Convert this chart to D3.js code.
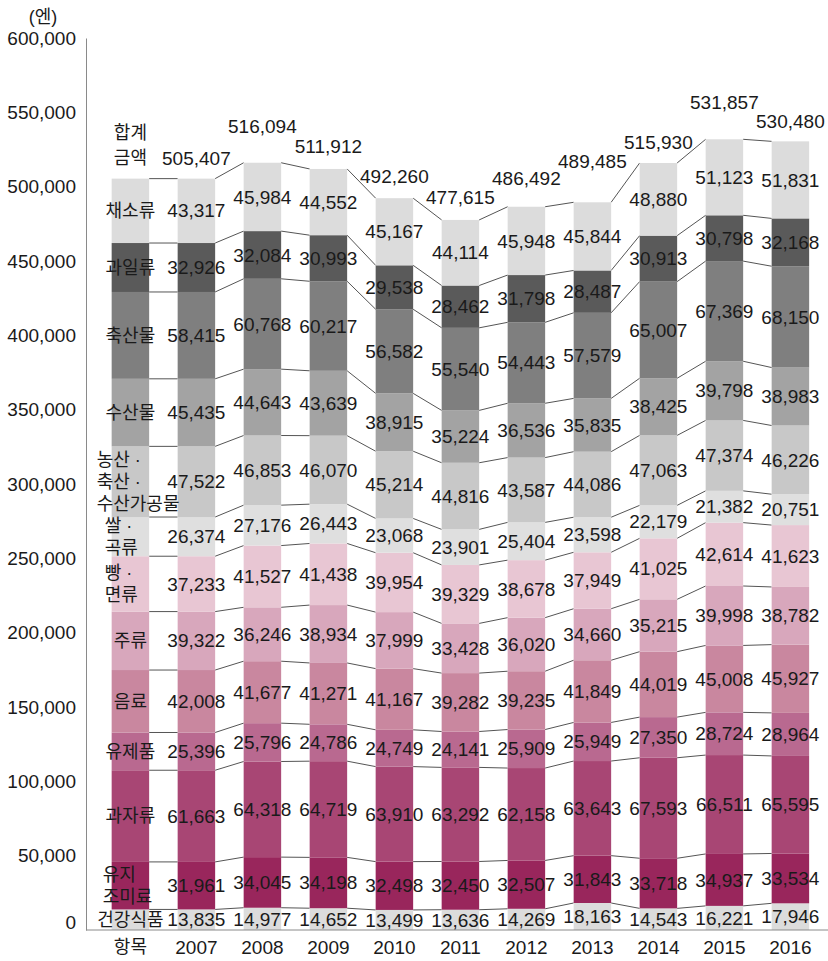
<!DOCTYPE html>
<html>
<head>
<meta charset="utf-8">
<script src="https://cdn.jsdelivr.net/npm/d3@7"></script>
<style>
  body { margin: 0; background: #fff; }
  text { font-family: "Liberation Sans", "Noto Sans CJK KR", sans-serif; fill: #1a1a1a; }
</style>
</head>
<body>
<svg id="chart" width="828" height="961"></svg>
<script>
// data (categories listed bottom -> top of the stack)
const years = ["2007", "2008", "2009", "2010", "2011", "2012", "2013", "2014", "2015", "2016"];
const categories = ["건강식품", "유지 조미료", "과자류", "유제품", "음료", "주류", "빵 · 면류", "쌀 · 곡류", "농산 · 축산 · 수산가공물", "수산물", "축산물", "과일류", "채소류"];

const healthFood = [13835, 14977, 14652, 13499, 13636, 14269, 18163, 14543, 16221, 17946];
const oilSeasoning = [31961, 34045, 34198, 32498, 32450, 32507, 31843, 33718, 34937, 33534];
const confectionery = [61663, 64318, 64719, 63910, 63292, 62158, 63643, 67593, 66511, 65595];
const dairy = [25396, 25796, 24786, 24749, 24141, 25909, 25949, 27350, 28724, 28964];
const beverages = [42008, 41677, 41271, 41167, 39282, 39235, 41849, 44019, 45008, 45927];
const liquor = [39322, 36246, 38934, 37999, 33428, 36020, 34660, 35215, 39998, 38782];
const breadNoodles = [37233, 41527, 41438, 39954, 39329, 38678, 37949, 41025, 42614, 41623];
const riceGrain = [26374, 27176, 26443, 23068, 23901, 25404, 23598, 22179, 21382, 20751];
const processed = [47522, 46853, 46070, 45214, 44816, 43587, 44086, 47063, 47374, 46226];
const seafood = [45435, 44643, 43639, 38915, 35224, 36536, 35835, 38425, 39798, 38983];
const livestock = [58415, 60768, 60217, 56582, 55540, 54443, 57579, 65007, 67369, 68150];
const fruit = [32926, 32084, 30993, 29538, 28462, 31798, 28487, 30913, 30798, 32168];
const vegetables = [43317, 45984, 44552, 45167, 44114, 45948, 45844, 48880, 51123, 51831];
const totals = [505407, 516094, 511912, 492260, 477615, 486492, 489485, 515930, 531857, 530480];
const yTicks = [0, 50000, 100000, 150000, 200000, 250000, 300000, 350000, 400000, 450000, 500000, 550000, 600000];

const series = [healthFood, oilSeasoning, confectionery, dairy, beverages, liquor, breadNoodles,
  riceGrain, processed, seafood, livestock, fruit, vegetables];

// styling
const colors = ["#dcdcdc", "#99265c", "#a84674", "#b96990", "#c9879f", "#d8a7bc", "#e8c6d3",
  "#dfdfdf", "#c8c8c8", "#a3a3a3", "#7f7f7f", "#5a5a5a", "#dcdcdc"];
// multi-line names in the first column: lines, anchor, x offset from bar start
const nameLayout = {
  "유지 조미료": { lines: ["유지", "조미료"], dx: -9 },
  "빵 · 면류": { lines: ["빵 ·", "면류"], dx: -7 },
  "쌀 · 곡류": { lines: ["쌀 ·", "곡류"], dx: -7 },
  "농산 · 축산 · 수산가공물": { lines: ["농산 ·", "축산 ·", "수산가공물"], dx: -15 }
};
const totalLift = [20, 36, 23, 22, 23, 28, 41, 21, 37, 20];

const svg = d3.select("#chart");
const columns = ["항목", ...years];

// first column repeats the 2007 stack, labelled with item names
const rows = columns.map((c, i) => {
  const j = i === 0 ? 0 : i - 1;
  const r = { col: c };
  categories.forEach((k, ci) => r[k] = series[ci][j]);
  return r;
});
const stacked = d3.stack().keys(categories)(rows);

const x = d3.scaleBand().domain(columns).range([97.4, 823.4]).paddingInner(0.432).paddingOuter(0.216);
const y = d3.scaleLinear().domain([0, 600000]).range([930, 38]);
const bw = x.bandwidth();
const fmt = d3.format(",");

// connector lines between adjacent bars
const linkGroup = svg.append("g");
stacked.forEach(layer => {
  for (let i = 0; i < columns.length - 1; i++) {
    linkGroup.append("line")
      .attr("x1", x(columns[i]) + bw).attr("y1", y(layer[i][1]))
      .attr("x2", x(columns[i + 1])).attr("y2", y(layer[i + 1][1]))
      .attr("stroke", "#555").attr("stroke-width", 1);
  }
});

// bars
svg.append("g").selectAll("g")
  .data(stacked)
  .join("g")
  .attr("fill", (d, i) => colors[i])
  .selectAll("rect")
  .data(d => d)
  .join("rect")
  .attr("x", d => x(d.data.col))
  .attr("y", d => y(d[1]))
  .attr("width", bw)
  .attr("height", d => y(d[0]) - y(d[1]));

// axes
const yAxis = svg.append("g")
  .attr("transform", "translate(86,0)")
  .call(d3.axisLeft(y).tickValues(yTicks).tickSize(0).tickSizeOuter(0).tickPadding(10).tickFormat(fmt));
yAxis.select(".domain").attr("stroke", "#8a8a8a");
yAxis.selectAll("text")
  .attr("font-size", 19)
  .attr("font-family", null)
  .attr("dy", d => d === 0 ? "-0.1em" : "0.32em");
yAxis.attr("font-family", null);

svg.append("line")
  .attr("x1", 86).attr("x2", 828).attr("y1", y(0)).attr("y2", y(0))
  .attr("stroke", "#8a8a8a");

svg.append("text").attr("x", 43).attr("y", 17).attr("dy", "0.35em")
  .attr("text-anchor", "middle").attr("font-size", 18).text("(엔)");

svg.append("g").selectAll("text")
  .data(columns)
  .join("text")
  .attr("x", d => x(d) + bw / 2)
  .attr("y", 947)
  .attr("dy", "0.35em")
  .attr("text-anchor", "middle")
  .attr("font-size", d => d === "항목" ? 18 : 19)
  .text(d => d);

// value labels inside segments
const labelGroup = svg.append("g");
stacked.forEach((layer, ci) => {
  layer.forEach((d, i) => {
    const cy = (y(d[0]) + y(d[1])) / 2;
    if (i === 0) {
      const lay = nameLayout[categories[ci]];
      if (lay) {
        const n = lay.lines.length;
        lay.lines.forEach((t, li) => {
          labelGroup.append("text")
            .attr("x", x(d.data.col) + lay.dx)
            .attr("y", cy + (li - (n - 1) / 2) * 22)
            .attr("dy", "0.35em")
            .attr("font-size", 18)
            .text(t);
        });
      } else {
        labelGroup.append("text")
          .attr("x", x(d.data.col) + bw / 2)
          .attr("y", cy)
          .attr("dy", "0.35em")
          .attr("text-anchor", "middle")
          .attr("font-size", 18)
          .text(categories[ci]);
      }
    } else {
      labelGroup.append("text")
        .attr("x", x(d.data.col) + bw / 2)
        .attr("y", cy)
        .attr("dy", "0.35em")
        .attr("text-anchor", "middle")
        .attr("font-size", 19)
        .text(fmt(d[1] - d[0]));
    }
  });
});

// totals above bars
svg.append("g").selectAll("text")
  .data(totals)
  .join("text")
  .attr("x", (d, i) => x(years[i]) + bw / 2)
  .attr("y", (d, i) => y(d) - totalLift[i])
  .attr("dy", "0.35em")
  .attr("text-anchor", "middle")
  .attr("font-size", 19)
  .text(d => fmt(d));

["합계", "금액"].forEach((t, i) => {
  svg.append("text")
    .attr("x", x("항목") + bw / 2)
    .attr("y", 133 + i * 25)
    .attr("dy", "0.35em")
    .attr("text-anchor", "middle")
    .attr("font-size", 18)
    .text(t);
});
</script>
</body>
</html>
